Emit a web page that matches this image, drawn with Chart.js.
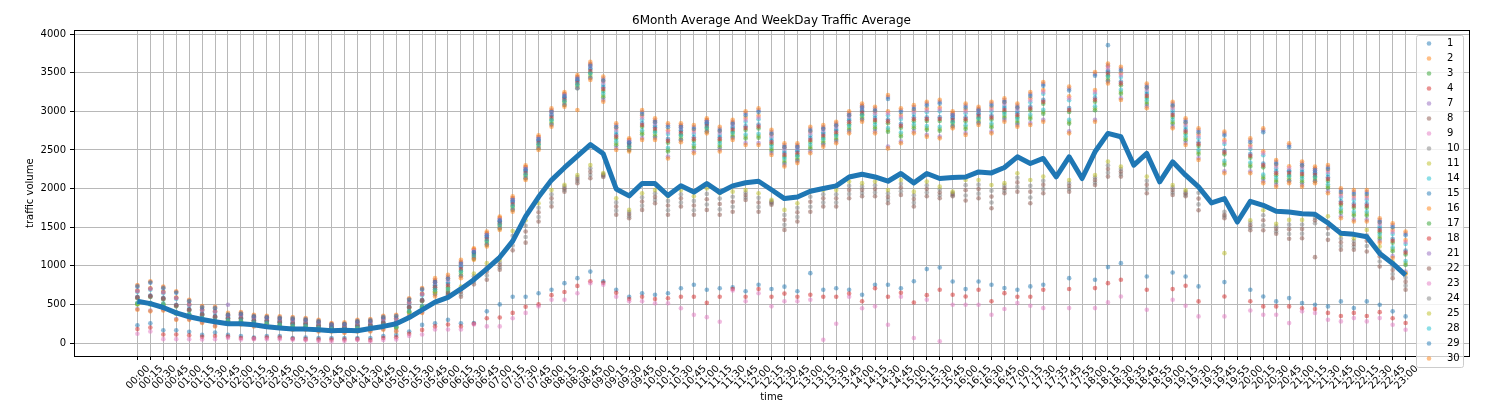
<!DOCTYPE html>
<html>
<head>
<meta charset="utf-8">
<title>6Month Average And WeekDay Traffic Average</title>
<script src="https://cdn.jsdelivr.net/npm/chart.js@4.4.1/dist/chart.umd.min.js"></script>
<style>
  html, body { margin: 0; padding: 0; background: #fff; }
  canvas { display: block; }
</style>
</head>
<body>
<canvas id="traffic" width="1492" height="406"></canvas>
<script>
const times = ['00:00','00:15','00:30','00:45','01:00','01:15','01:30','01:45','02:00','02:15',
  '02:30','02:45','03:00','03:15','03:30','03:45','04:00','04:15','04:30','04:45',
  '05:00','05:15','05:30','05:45','06:00','06:15','06:30','06:45','07:00','07:15',
  '07:30','07:45','08:00','08:15','08:30','08:45','09:00','09:15','09:30','09:45',
  '10:00','10:15','10:30','10:45','11:00','11:15','11:30','11:45','12:00','12:15',
  '12:30','12:45','13:00','13:15','13:30','13:45','14:00','14:15','14:30','14:45',
  '15:00','15:15','15:30','15:45','16:00','16:15','16:30','16:45','17:00','17:15',
  '17:30','17:35','17:45','17:55','18:00','18:15','18:30','18:35','18:45','18:55',
  '19:00','19:15','19:30','19:35','19:45','19:55','20:00','20:15','20:30','20:45',
  '21:00','21:15','21:30','21:45','22:00','22:15','22:30','22:45','23:00'];

// thick blue line: 6 month average
const avg6Month = [540,510,460,390,340,305,275,250,250,237,
  210,195,182,180,172,160,164,160,188,215,
  250,330,430,530,590,700,820,960,1110,1320,
  1640,1890,2110,2270,2420,2570,2450,1995,1905,2065,
  2065,1910,2035,1955,2065,1950,2035,2075,2095,1985,
  1870,1890,1965,2000,2035,2150,2186,2150,2095,2195,
  2074,2195,2130,2143,2150,2216,2203,2273,2411,2325,
  2390,2152,2411,2130,2476,2714,2671,2303,2455,2087,
  2346,2173,2022,1814,1870,1567,1835,1783,1706,1697,
  1675,1666,1554,1420,1407,1377,1160,1030,880];

// weekday scatter, one array per day
const d1 = [230,255,165,165,145,105,135,105,90,70,
  90,90,65,70,65,65,65,65,65,90,
  105,150,235,255,300,255,260,410,500,600,
  600,645,690,775,840,925,800,690,600,645,
  625,645,710,755,690,710,720,670,755,700,
  730,670,905,690,710,690,625,755,755,710,
  800,957,978,797,698,797,755,711,690,733,
  755,null,840,null,820,983,1034,null,862,null,
  914,862,733,null,789,null,690,603,539,582,
  517,496,474,539,452,539,496,410,345];
const d2 = [680,710,665,590,505,435,415,365,370,340,
  330,315,305,295,273,241,243,273,280,318,
  322,531,640,806,838,1043,1215,1421,1620,1875,
  2278,2668,3005,3228,3446,3606,3394,2784,2633,2945,
  2865,2756,2809,2757,2886,2745,2850,2916,2946,2704,
  2536,2547,2739,2778,2821,2954,3067,2999,3000,2952,
  3014,3037,3050,2970,3024,3026,3048,3119,3050,3168,
  3277,null,3194,null,3275,3580,3494,null,3305,null,
  3064,2849,2703,null,2627,null,2562,2482,2309,2288,
  2294,2256,2239,1933,1903,1903,1562,1463,1333];
const d3 = [580,595,565,475,420,360,330,310,310,280,
  275,260,244,238,215,194,190,215,220,252,
  248,453,540,697,718,934,1128,1322,1527,1775,
  2180,2570,2895,3130,3348,3498,3263,2648,2540,2799,
  2745,2593,2698,2615,2788,2615,2735,2758,2778,2573,
  2411,2433,2604,2658,2701,2833,2958,2863,2845,2788,
  2873,2874,2875,2865,2873,2917,2895,2993,2925,3012,
  3098,null,2993,null,3125,3465,3337,null,3175,null,
  2928,2713,2550,null,2443,null,2399,2275,2173,2175,
  2163,2153,2098,1786,1752,1752,1433,1300,1147];
const d4 = [180,200,110,110,100,80,90,85,65,60,
  70,70,55,50,45,45,45,50,40,65,
  75,120,170,215,240,215,250,320,330,390,
  470,500,620,660,740,800,780,650,570,600,
  570,580,600,600,520,600,700,600,700,600,
  640,600,625,600,600,640,540,710,600,650,
  525,620,690,625,603,690,540,646,600,600,
  690,null,700,null,711,775,820,null,690,null,
  698,741,539,null,603,null,540,474,474,474,
  450,440,390,350,390,350,400,320,260];
const d7 = [740,790,720,660,550,470,460,495,390,356,
  343,335,326,313,290,248,257,290,300,343,
  356,570,701,815,858,1052,1203,1419,1613,1875,
  2275,2665,3015,3225,3445,3615,3425,2820,2625,2992,
  2885,2820,2820,2798,2885,2775,2865,2975,3015,2735,
  2561,2561,2775,2798,2841,2975,3075,3035,3185,3015,
  3055,3100,3125,2975,3075,3035,3100,3145,3075,3225,
  3355,null,3295,null,3485,3595,3552,null,3335,null,
  3100,2885,2755,null,2712,null,2625,2755,2345,2561,
  2325,2260,2280,1980,1955,1955,1591,1525,1419];
const d8 = [515,515,505,395,370,320,285,290,285,260,
  255,235,218,215,193,182,170,193,195,222,
  209,409,474,667,600,600,760,820,950,1200,
  1300,1573,1767,1960,2070,2133,2150,1660,1616,1724,
  1810,1660,1767,1660,1724,1660,1700,1853,1700,1790,
  1465,1573,1700,1767,1767,1875,1900,1900,1810,1918,
  1767,1900,1875,1900,1845,1875,1745,1940,1960,1810,
  1940,null,1960,null,2047,2155,2155,null,1940,null,
  1918,1900,1720,null,1616,null,1460,1460,1415,1350,
  1357,1112,1336,1207,1207,1185,990,840,690];
const d9 = [120,150,50,50,50,45,50,65,45,50,
  50,50,43,35,25,20,25,40,20,40,
  45,90,110,175,175,175,240,215,215,320,
  390,475,560,560,645,775,755,600,540,540,
  515,515,450,365,335,275,680,540,645,475,
  540,540,560,43,250,600,450,475,237,600,
  65,560,22,496,496,496,366,440,517,483,
  452,null,452,null,452,526,603,null,431,null,
  560,483,345,null,345,null,422,366,366,258,
  410,388,302,280,323,280,323,237,172];
const d10 = [595,610,580,490,435,375,345,325,325,295,
  290,275,259,253,230,209,205,230,235,267,
  263,468,555,727,625,633,795,874,982,1262,
  1372,1632,1820,1983,2097,2176,2163,1714,1643,1778,
  1853,1720,1820,1720,1793,1730,1765,1885,1760,1806,
  1530,1632,1765,1820,1820,1929,1943,1948,1853,1966,
  1815,1948,1913,1915,1911,1934,1820,1973,2020,1885,
  1994,null,1998,null,2079,2204,2188,null,1994,null,
  1950,1920,1795,null,1640,null,1492,1525,1448,1411,
  1416,1550,1412,1255,1245,1255,1055,893,743];
const d11 = [510,510,500,390,365,315,280,285,280,255,
  250,230,213,210,188,177,165,188,190,217,
  204,404,469,662,673,899,1115,1299,1508,1750,
  2158,2548,2860,3108,3324,3464,3206,2586,2523,2727,
  2700,2504,2661,2549,2764,2560,2695,2674,2684,2516,
  2360,2394,2543,2613,2656,2786,2925,2801,2760,2700,
  2806,2785,2775,2835,2796,2882,2818,2942,2875,2930,
  2995,null,2866,null,3040,3425,3254,null,3120,null,
  2866,2651,2473,null,2333,null,2311,2155,2111,2133,
  2106,2124,2031,1713,1675,1675,1379,1213,1036];
const d14 = [660,690,645,570,485,415,395,345,350,320,
  310,295,285,275,253,221,223,253,260,298,
  302,511,620,756,788,993,1165,1371,1570,1825,
  2228,2618,2955,3178,3396,3556,3344,2734,2583,2895,
  2815,2706,2759,2707,2836,2695,2800,2866,2896,2654,
  2486,2497,2689,2728,2771,2904,3017,2949,2950,2902,
  2964,2987,3000,2920,2974,2976,2998,3069,3000,3118,
  3227,null,3144,null,3225,3530,3444,null,3255,null,
  3014,2799,2653,null,2577,null,2512,2432,2259,2238,
  2244,2206,2189,1883,1853,1853,1512,1413,1283];
const d15 = [600,615,585,495,440,380,350,330,330,300,
  295,280,264,258,235,214,210,235,240,272,
  268,473,560,747,768,984,1178,1372,1577,1825,
  2230,2620,2945,3180,3398,3548,3313,2698,2590,2849,
  2795,2643,2748,2665,2838,2665,2785,2808,2828,2623,
  2461,2483,2654,2708,2751,2883,3008,2913,2895,2838,
  2923,2924,2925,2915,2923,2967,2945,3043,2975,3062,
  3148,null,3043,null,3175,3515,3387,null,3225,null,
  2978,2763,2600,null,2493,null,2449,2325,2223,2225,
  2213,2203,2148,1836,1802,1802,1483,1350,1197];
const d16 = [750,800,730,670,560,480,470,390,400,366,
  353,345,336,323,300,258,267,300,310,353,
  366,580,711,840,883,1077,1228,1444,1638,1900,
  2300,2690,3040,3250,3470,3640,3450,2845,2650,3017,
  2910,2845,2845,2823,2910,2800,2890,3000,3040,2760,
  2586,2586,2800,2823,2866,3000,3100,3060,3210,3040,
  3080,3125,3150,3000,3100,3060,3125,3170,3100,3250,
  3380,null,3320,null,3510,3620,3577,null,3360,null,
  3125,2910,2780,null,2737,null,2650,2780,2370,2586,
  2350,2285,2305,2005,1980,1980,1616,1550,1444];
const d17 = [500,500,490,380,355,305,270,275,270,245,
  240,220,203,200,178,167,155,178,180,207,
  194,394,459,637,648,874,1090,1274,1483,1725,
  2133,2523,2835,3083,3299,3439,3181,2561,2498,2702,
  2675,2479,2636,2524,2739,2535,2670,2649,2659,2491,
  2335,2369,2518,2588,2631,2761,2900,2776,2735,2675,
  2781,2760,2750,2810,2771,2857,2793,2917,2850,2905,
  2970,null,2841,null,3015,3400,3229,null,3095,null,
  2841,2626,2448,null,2308,null,2286,2130,2086,2108,
  2081,2099,2006,1688,1650,1650,1354,1188,1011];
const d18 = [590,605,575,485,430,370,340,320,320,290,
  285,270,254,248,225,204,200,225,230,262,
  258,463,550,722,743,959,1153,1347,1552,1800,
  2205,2595,2920,3155,3373,3523,3288,2673,2565,2824,
  2770,2618,2723,2640,2813,2640,2760,2783,2803,2598,
  2436,2458,2629,2683,2726,2858,2983,2888,2870,2813,
  2898,2899,2900,2890,2898,2942,2920,3018,2950,3037,
  3123,null,3018,null,3150,3490,3362,null,3200,null,
  2953,2738,2575,null,2468,null,2424,2300,2198,2200,
  2188,2178,2123,1811,1777,1777,1458,1325,1172];
const d21 = [440,420,430,310,310,270,225,260,250,225,
  225,205,182,182,160,160,140,160,160,182,
  160,355,398,628,628,865,1102,1275,1490,1725,
  2135,2525,2825,3085,3300,3430,3150,2525,2505,2655,
  2655,2415,2625,2482,2740,2505,2655,2590,2590,2460,
  2310,2355,2482,2568,2611,2740,2891,2740,2545,2611,
  2740,2697,2675,2805,2720,2848,2740,2891,2825,2848,
  2891,null,2740,null,2891,3385,3171,null,3065,null,
  2805,2590,2395,null,2223,null,2223,2095,2050,2095,
  2050,2095,1965,1641,1598,1598,1325,1125,925];
const d22 = [675,705,660,585,500,430,410,360,365,335,
  325,310,300,290,268,236,238,268,275,313,
  317,526,635,786,650,665,830,927,1014,1325,
  1445,1692,1873,2005,2123,2219,2175,1768,1670,1832,
  1895,1780,1873,1780,1862,1800,1830,1916,1820,1822,
  1595,1692,1830,1873,1873,1983,1985,1995,1895,2014,
  1864,1995,1950,1930,1978,1993,1896,2005,2080,1960,
  2048,null,2035,null,2112,2253,2220,null,2048,null,
  1983,1940,1870,null,1660,null,1525,1590,1480,1472,
  1476,1590,1488,1304,1282,1325,1120,945,795];
const d23 = [670,700,655,580,495,425,405,355,360,330,
  320,305,295,285,263,231,233,263,270,308,
  312,521,630,781,813,1018,1190,1396,1595,1850,
  2253,2643,2980,3203,3421,3581,3369,2759,2608,2920,
  2840,2731,2784,2732,2861,2720,2825,2891,2921,2679,
  2511,2522,2714,2753,2796,2929,3042,2974,2975,2927,
  2989,3012,3025,2945,2999,3001,3023,3094,3025,3143,
  3252,null,3169,null,3250,3555,3469,null,3280,null,
  3039,2824,2678,null,2602,null,2537,2457,2284,2263,
  2269,2231,2214,1908,1878,1878,1537,1438,1308];
const d24 = [585,600,570,480,425,365,335,315,315,285,
  280,265,249,243,220,199,195,220,225,257,
  253,458,545,717,675,698,865,981,1045,1388,
  1518,1751,1927,2028,2150,2262,2188,1821,1697,1886,
  1938,1840,1927,1840,1931,1870,1895,1948,1880,1837,
  1659,1751,1895,1927,1927,2036,2028,2043,1938,2062,
  1912,2043,1988,1945,2044,2051,1971,2038,2140,2035,
  2101,null,2073,null,2144,2301,2253,null,2101,null,
  2015,1960,1945,null,1700,null,1557,1655,1513,1533,
  1535,1620,1564,1352,1320,1395,1185,998,848];
const d25 = [505,505,495,385,360,310,275,280,275,250,
  245,225,208,205,183,172,160,183,185,212,
  199,399,464,657,700,730,900,1034,1077,1450,
  1590,1810,1980,2050,2176,2305,2200,1875,1724,1940,
  1980,1900,1980,1900,2000,1940,1960,1980,1940,1853,
  1724,1810,1960,1980,1980,2090,2070,2090,1980,2110,
  1960,2090,2025,1960,2110,2110,2047,2070,2198,2110,
  2155,null,2110,null,2176,2350,2285,null,2155,null,
  2047,1980,2020,null,1164,null,1590,1720,1545,1594,
  1594,1660,1640,1400,1357,1465,1250,1050,900];
const d28 = [520,520,510,400,375,325,290,295,290,265,
  260,240,223,220,198,187,175,198,200,227,
  214,414,479,687,698,924,1140,1324,1533,1775,
  2183,2573,2885,3133,3349,3489,3231,2611,2548,2752,
  2725,2529,2686,2574,2789,2585,2720,2699,2709,2541,
  2385,2419,2568,2638,2681,2811,2950,2826,2785,2725,
  2831,2810,2800,2860,2821,2907,2843,2967,2900,2955,
  3020,null,2891,null,3065,3450,3279,null,3145,null,
  2891,2676,2498,null,2358,null,2336,2180,2136,2158,
  2131,2149,2056,1738,1700,1700,1404,1238,1061];
const d29 = [730,780,710,650,540,460,450,370,380,346,
  333,325,316,303,280,238,247,280,290,333,
  346,560,691,790,833,1027,1178,1394,1588,1850,
  2250,2640,2990,3200,3420,3590,3400,2795,2600,2967,
  2860,2795,2795,2773,2860,2750,2840,2950,2990,2710,
  2536,2536,2750,2773,2816,2950,3050,3010,3160,2990,
  3030,3075,3100,2950,3050,3010,3075,3120,3050,3200,
  3330,null,3270,null,3460,3857,3527,null,3310,null,
  3075,2860,2730,null,2687,null,2600,2730,2320,2536,
  2300,2235,2255,1955,1930,1930,1566,1500,1394];
const d30 = [430,410,420,300,300,260,215,250,240,215,
  215,195,172,172,150,150,130,150,150,172,
  150,345,388,603,603,840,1077,1250,1465,1700,
  2110,2500,2800,3060,3017,3405,3125,2500,2480,2630,
  2630,2390,2600,2457,2715,2480,2630,2565,2565,2435,
  2285,2330,2457,2543,2586,2715,2866,2715,2520,2586,
  2715,2672,2650,2780,2695,2823,2715,2866,2800,2823,
  2866,null,2715,null,2866,3360,3146,null,3040,null,
  2780,2565,2370,null,2198,null,2198,2070,2025,2070,
  2025,2070,1940,1616,1573,1573,1300,1100,900];

const dayNames = ['1','2','3','4','7','8','9','10','11','14','15','16','17','18','21','22','23','24','25','28','29','30'];
const dayValues = [d1,d2,d3,d4,d7,d8,d9,d10,d11,d14,d15,d16,d17,d18,d21,d22,d23,d24,d25,d28,d29,d30];
const yTicks = [0,500,1000,1500,2000,2500,3000,3500,4000];

const tab10 = ['#1f77b4','#ff7f0e','#2ca02c','#d62728','#9467bd','#8c564b','#e377c2','#7f7f7f','#bcbd22','#17becf'];

function fade(hex, a) {
  const n = parseInt(hex.slice(1), 16);
  return `rgba(${(n >> 16) & 255},${(n >> 8) & 255},${n & 255},${a})`;
}

function toPoints(values) {
  return values.map((v, i) => ({ x: i, y: v }));
}

// top and right spines
const frame = {
  id: 'frame',
  afterDatasetsDraw(chart) {
    const { ctx, chartArea: a } = chart;
    ctx.save();
    ctx.strokeStyle = '#000';
    ctx.lineWidth = 1;
    ctx.strokeRect(Math.round(a.left) + 0.5, Math.round(a.top) + 0.5,
      Math.round(a.right - a.left), Math.round(a.bottom - a.top));
    ctx.restore();
  }
};

// matplotlib-like legend box in the upper right
const boxLegend = {
  id: 'boxLegend',
  afterDraw(chart) {
    const ctx = chart.ctx;
    const x = 1416, y = 35, w = 47, h = 332;
    ctx.save();
    ctx.fillStyle = 'rgba(255,255,255,0.8)';
    ctx.strokeStyle = '#cccccc';
    ctx.lineWidth = 1;
    ctx.beginPath();
    ctx.roundRect(x + 0.5, y + 0.5, w, h, 2);
    ctx.fill();
    ctx.stroke();
    ctx.font = '10px "DejaVu Sans", sans-serif';
    ctx.textBaseline = 'middle';
    ctx.textAlign = 'left';
    dayNames.forEach((name, k) => {
      const ry = 43.5 + k * 15;
      ctx.fillStyle = fade(tab10[k % 10], 0.5);
      ctx.beginPath();
      ctx.arc(1429, ry, 2.3, 0, Math.PI * 2);
      ctx.fill();
      ctx.fillStyle = '#000';
      ctx.fillText(name, 1447, ry);
    });
    ctx.restore();
  }
};

Chart.defaults.font.family = '"DejaVu Sans", sans-serif';
Chart.defaults.font.size = 10;
Chart.defaults.color = '#000';

const datasets = [{
  label: '6Month Average',
  data: toPoints(avg6Month),
  borderColor: '#1f77b4',
  borderWidth: 5,
  borderJoinStyle: 'round',
  pointRadius: 0,
  tension: 0,
  fill: false,
  order: 0
}];

dayValues.forEach((vals, k) => {
  datasets.push({
    label: dayNames[k],
    data: toPoints(vals),
    showLine: false,
    pointRadius: 2.3,
    pointBorderWidth: 0,
    pointBackgroundColor: fade(tab10[k % 10], 0.5),
    borderColor: fade(tab10[k % 10], 0.5),
    order: dayValues.length - k
  });
});

const gridStyle = { color: '#b8b8b8', lineWidth: 1, tickLength: 4, tickColor: '#000' };

new Chart(document.getElementById('traffic'), {
  type: 'line',
  data: { datasets },
  plugins: [frame, boxLegend],
  options: {
    responsive: false,
    animation: false,
    devicePixelRatio: 1,
    layout: { padding: { left: 0, right: 23, top: 0, bottom: 0 } },
    plugins: {
      legend: { display: false },
      tooltip: { enabled: false },
      title: {
        display: true,
        fullSize: false,
        text: '6Month Average And WeekDay Traffic Average',
        font: { size: 12, weight: 'normal' },
        color: '#000',
        padding: { top: 14, bottom: 2 }
      }
    },
    scales: {
      x: {
        type: 'linear',
        min: -4.9,
        max: 102.9,
        afterBuildTicks: axis => { axis.ticks = times.map((t, i) => ({ value: i })); },
        afterFit: axis => { axis.height = 50; },
        ticks: {
          autoSkip: false,
          minRotation: 45,
          maxRotation: 45,
          labelOffset: 11,
          padding: 3,
          color: '#000',
          callback: v => times[v]
        },
        grid: gridStyle,
        border: { color: '#000', width: 1 },
        title: { display: true, text: 'time', color: '#000', padding: { top: 0, bottom: 3 } }
      },
      y: {
        type: 'linear',
        min: -168,
        max: 4048,
        afterBuildTicks: axis => { axis.ticks = yTicks.map(v => ({ value: v })); },
        afterFit: axis => { axis.width = 74; },
        ticks: { padding: 4, color: '#000', callback: v => String(v) },
        grid: gridStyle,
        border: { color: '#000', width: 1 },
        title: { display: true, text: 'traffic volume', color: '#000', padding: { top: 24, bottom: 0 } }
      }
    }
  }
});
</script>
</body>
</html>
